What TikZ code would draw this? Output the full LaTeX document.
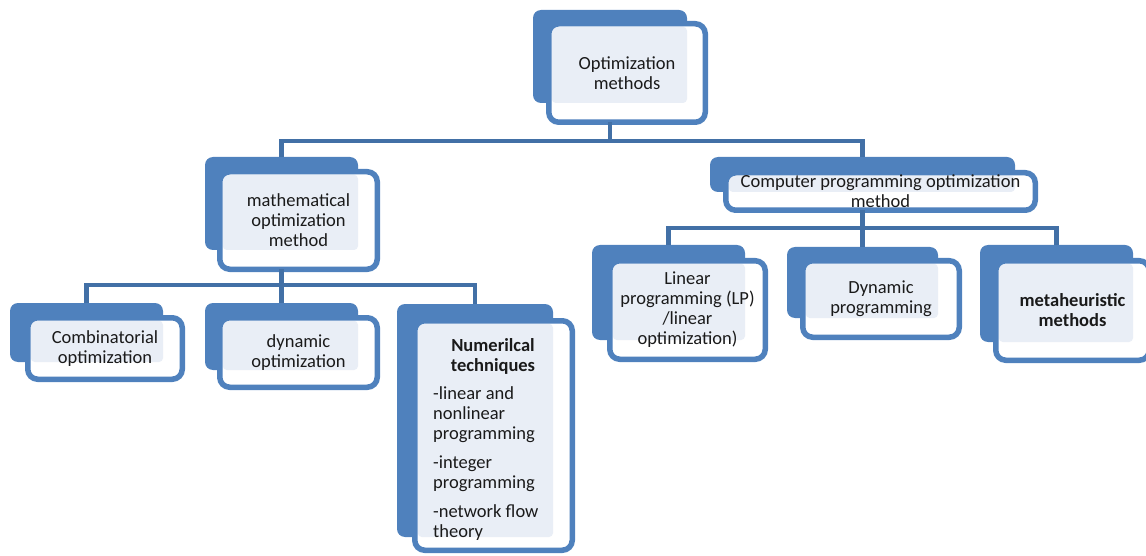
\documentclass[tikz,border=0pt]{standalone}
\usepackage{fontspec}
\setmainfont{Carlito}
\definecolor{backblue}{HTML}{4F81BD}
\definecolor{lineblue}{HTML}{4270A6}
\definecolor{lightfill}{HTML}{E9EEF6}
\definecolor{txt}{HTML}{1A1A1A}
\tikzset{
  backbox/.style={rectangle, rounded corners=8pt, fill=backblue, draw=none, inner sep=0pt, outer sep=0pt},
  frontbox/.style={rectangle, rounded corners=10pt, fill=white, draw=none, inner sep=0pt, outer sep=0pt},
  frontline/.style={draw=backblue, line width=5.5pt, rounded corners=10pt},
  lightpart/.style={fill=lightfill, rounded corners=4pt},
  conn/.style={draw=lineblue, line width=4.5pt},
  lbl/.style={font=\fontsize{18.5}{20}\selectfont, text=txt, align=center, inner sep=0pt},
  lblb/.style={lbl, font=\fontsize{18.5}{20}\selectfont\bfseries},
}
% #1 name, #2-#5 back box (x1,y1,x2,y2), #6-#9 front box outer edges (x1,y1,x2,y2)
\newcommand{\obox}[9]{%
  \node[backbox, minimum width={#4-#2}, minimum height={#5-#3}] (#1B) at ({(#2+#4)/2},{(#3+#5)/2}) {};
  \node[frontbox, minimum width={#8-#6-5.5}, minimum height={#9-#7-5.5}] (#1F) at ({(#6+#8)/2},{(#7+#9)/2}) {};
  \fill[lightpart] ([shift={(3,3)}]#1F.north west) rectangle (#1B.south east);
  \draw[frontline] (#1F.north west) rectangle (#1F.south east);
}
\begin{document}
\begin{tikzpicture}[x=1pt,y=-1pt]
\useasboundingbox (0,0) rectangle (1146,556);
\clip (0,0) rectangle (1146,556);

% boxes
\obox{top}{533}{10}{687}{103}{546}{21}{708}{125}
\obox{math}{205}{157}{358}{250}{217}{169}{380}{272}
\obox{comp}{710}{157}{1015}{192}{723}{170}{1038}{213}
\obox{comb}{10}{303}{163}{362}{25}{315}{185}{382}
\obox{dyno}{205}{303}{358}{370}{217}{315}{380}{390}
\obox{num}{397}{304}{553}{537}{412}{318}{575}{553}
\obox{lin}{592}{245}{745}{340}{607}{258}{768}{362}
\obox{dynp}{787}{247}{938}{318}{800}{258}{962}{340}
\obox{meta}{980}{245}{1133}{342}{993}{258}{1152}{363}

% connectors
\coordinate (t1) at (610,141);
\draw[conn] (topB.south |- topF.south) -- (t1);
\draw[conn] (mathB.north) |- (t1) -| (compB.north);

\coordinate (m1) at (281.5,285);
\draw[conn] (mathB.south |- mathF.south) -- (m1);
\draw[conn] (combB.north) |- (m1) -| (numB.north);
\draw[conn] (m1) -- (dynoB.north);

\coordinate (c1) at (862.5,228);
\draw[conn] (compB.south |- compF.south) -- (c1);
\draw[conn] (linB.north) |- (c1) -| (metaB.north);
\draw[conn] (c1) -- (dynpB.north);

% texts
\node[lbl] (topT) at (topF) {Optimization\\methods};
\node[lbl] (mathT) at (mathF) {mathematical\\optimization\\method};
\node[lbl] (compT) at (compF) {Computer programming optimization\\method};
\node[lbl] (combT) at (combF) {Combinatorial\\optimization};
\node[lbl] (dynoT) at (dynoF) {dynamic\\optimization};
\node[lbl] (linT) at (linF) {Linear\\programming (LP)\\/linear\\optimization)};
\node[lbl] (dynpT) at (dynpF) {Dynamic\\programming};
\node[lblb] (metaT) at (metaF) {metaheuristic\\methods};
\node[lblb] (numH) at (493,356) {Numerilcal\\techniques};
\node[lbl, align=left, anchor=north west] (numL) at (433,386) {-linear and\\nonlinear\\programming\\[9pt]-integer\\programming\\[9pt]-network flow\\theory};
\end{tikzpicture}
\end{document}
